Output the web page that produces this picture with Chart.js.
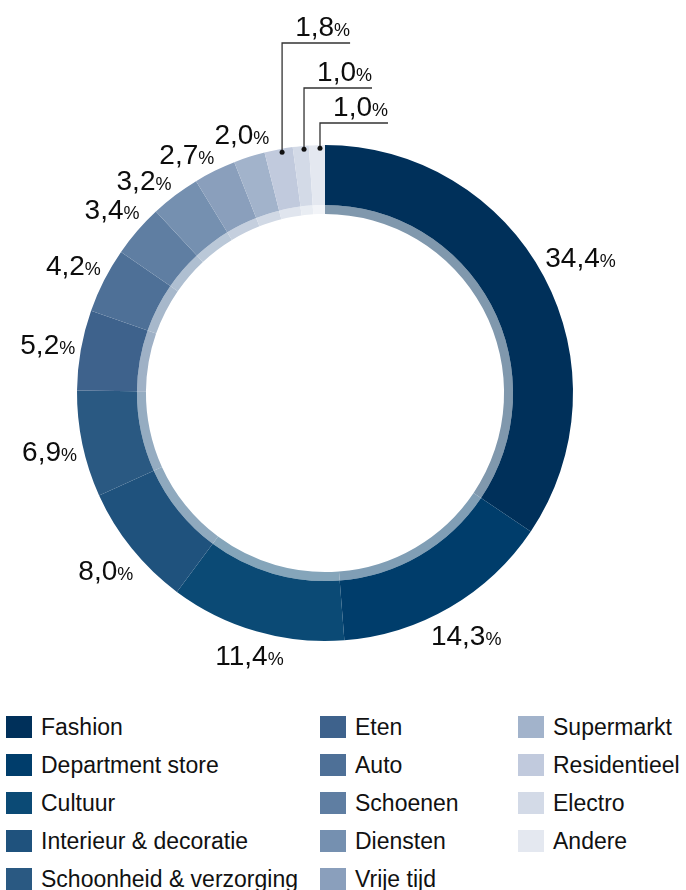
<!DOCTYPE html>
<html>
<head>
<meta charset="utf-8">
<script src="https://cdn.jsdelivr.net/npm/chart.js@4/dist/chart.umd.min.js"></script>
<style>
  html, body { margin: 0; padding: 0; background: #fff; }
  body { width: 686px; height: 890px; position: relative; overflow: hidden; }
  #chart { position: absolute; left: 0; top: 0; }
  #legend {
    position: absolute; left: 6px; top: 708px;
    display: grid; grid-auto-flow: column;
    grid-template-rows: repeat(5, 38px);
    grid-template-columns: 314px 198px 170px;
    font-family: "Liberation Sans", Arial, sans-serif;
    font-size: 23px; color: #111;
  }
  .item { display: flex; align-items: center; height: 38px; white-space: nowrap; }
  .sw { width: 26px; height: 22px; margin-right: 9px; flex: none; }
</style>
</head>
<body>
<canvas id="chart" width="686" height="700"></canvas>
<div id="legend"></div>
<script>
const categories = ['Fashion', 'Department store', 'Cultuur', 'Interieur & decoratie',
  'Schoonheid & verzorging', 'Eten', 'Auto', 'Schoenen', 'Diensten', 'Vrije tijd',
  'Supermarkt', 'Residentieel', 'Electro', 'Andere'];
// shares in %, estimated unrounded (labels show one decimal; slices fill the full circle)
const shares = [34.42, 14.33, 11.43, 8.04, 6.93, 5.23, 4.24, 3.43, 3.24, 2.74, 2.04, 1.84, 1.04, 1.04];

const colors = ['#00305a', '#003d6b', '#0b4a75', '#1f527d', '#2a5982', '#3e628c', '#4e7097',
  '#5f7ea2', '#7590b0', '#8a9fbc', '#a2b3cb', '#c1cadd', '#d3dae7', '#e4e8f0'];

// inner thin ring: same colour, washed out with white
function lighten(hex, t) {
  const n = parseInt(hex.slice(1), 16);
  const r = n >> 16, g = (n >> 8) & 255, b = n & 255;
  const m = c => Math.round(c + (255 - c) * t);
  return `rgb(${m(r)},${m(g)},${m(b)})`;
}
const innerColors = colors.map(c => lighten(c, 0.5));

const fmt = v => v.toFixed(1).replace('.', ',');

const BIG = '28px "Liberation Sans", Arial, sans-serif';
const SMALL = '18px "Liberation Sans", Arial, sans-serif';
const BOX_H = 26;
// heights of the leader elbows above the ring, lowest first
const LEADER_RISE = [22, 57, 102];

function drawLabel(ctx, l, x0, base) {
  ctx.fillStyle = '#0d0d0d';
  ctx.textAlign = 'left';
  ctx.textBaseline = 'alphabetic';
  ctx.font = BIG;
  ctx.fillText(l.num, x0, base);
  ctx.font = SMALL;
  ctx.fillText('%', x0 + l.wNum, base);
}

// box centre along angle a, pushed out until its nearest point clears radius r0
function boxAt(a, cx, cy, r0, w) {
  const dx = Math.cos(a), dy = Math.sin(a);
  let t = r0;
  for (; t < r0 + 200; t += 0.5) {
    const bx = dx * t, by = dy * t;
    const nx = Math.max(bx - w / 2, Math.min(0, bx + w / 2));
    const ny = Math.max(by - BOX_H / 2, Math.min(0, by + BOX_H / 2));
    if (Math.hypot(nx, ny) >= r0) break;
  }
  const x = cx + dx * t, y = cy + dy * t;
  return { x1: x - w / 2, x2: x + w / 2, y1: y - BOX_H / 2, y2: y + BOX_H / 2, x, y };
}
const hits = (a, b) => a.x1 < b.x2 && b.x1 < a.x2 && a.y1 < b.y2 && b.y1 < a.y2;

const labelPlugin = {
  id: 'sliceLabels',
  afterDraw(chart) {
    const ctx = chart.ctx;
    const meta = chart.getDatasetMeta(0);
    const items = meta.data.map((arc, i) => {
      const p = arc.getProps(['x', 'y', 'startAngle', 'endAngle', 'outerRadius']);
      const num = fmt(shares[i]);
      ctx.font = BIG;
      const wNum = ctx.measureText(num).width;
      ctx.font = SMALL;
      const wPct = ctx.measureText('%').width;
      return { i, p, mid: (p.startAngle + p.endAngle) / 2, num, wNum, w: wNum + wPct };
    });

    const normal = items.filter(l => shares[l.i] >= 2);
    const leaders = items.filter(l => shares[l.i] < 2);

    // outside labels, placed from the top going counter-clockwise; collisions rotate them on
    const placed = [];
    normal.slice().reverse().forEach(l => {
      const r0 = l.p.outerRadius + 4;
      let a = l.mid, box = boxAt(a, l.p.x, l.p.y, r0, l.w);
      let guard = 0;
      while (placed.some(b => hits(b, box)) && guard++ < 200) {
        a -= Math.PI / 900;
        box = boxAt(a, l.p.x, l.p.y, r0, l.w);
      }
      placed.push(box);
      drawLabel(ctx, l, box.x1, box.y + 10);
    });

    // small slices: leader lines stacked upwards, the last slice lowest
    const n = leaders.length;
    leaders.forEach((l, k) => {
      const level = n - 1 - k;
      const dx = l.p.x + Math.cos(l.mid) * (l.p.outerRadius - 3) + 3;
      const dy = l.p.y + Math.sin(l.mid) * (l.p.outerRadius - 3);
      const ly = l.p.y - l.p.outerRadius - LEADER_RISE[level];
      const ex = dx + 68;
      ctx.strokeStyle = '#333';
      ctx.lineWidth = 1.3;
      ctx.beginPath();
      ctx.moveTo(dx, dy);
      ctx.lineTo(dx, ly);
      ctx.lineTo(ex, ly);
      ctx.stroke();
      ctx.fillStyle = '#111';
      ctx.beginPath();
      ctx.arc(dx, dy, 2.5, 0, Math.PI * 2);
      ctx.fill();
      drawLabel(ctx, l, ex - l.w, ly - 7);
    });
  }
};

new Chart(document.getElementById('chart'), {
  type: 'doughnut',
  data: {
    labels: categories,
    datasets: [
      { data: shares, backgroundColor: colors, borderWidth: 0, weight: 60 },
      { data: shares, backgroundColor: innerColors, borderWidth: 0, weight: 9 }
    ]
  },
  options: {
    responsive: false,
    animation: false,
    cutout: '72.2%',
    layout: { padding: { left: 77, right: 113, top: 145, bottom: 59 } },
    plugins: {
      legend: { display: false },
      tooltip: { enabled: false }
    }
  },
  plugins: [labelPlugin]
});

const legend = document.getElementById('legend');
categories.forEach((name, i) => {
  const item = document.createElement('div');
  item.className = 'item';
  item.innerHTML = `<span class="sw" style="background:${colors[i]}"></span><span>${name.replace('&', '&amp;')}</span>`;
  legend.appendChild(item);
});
</script>
</body>
</html>
